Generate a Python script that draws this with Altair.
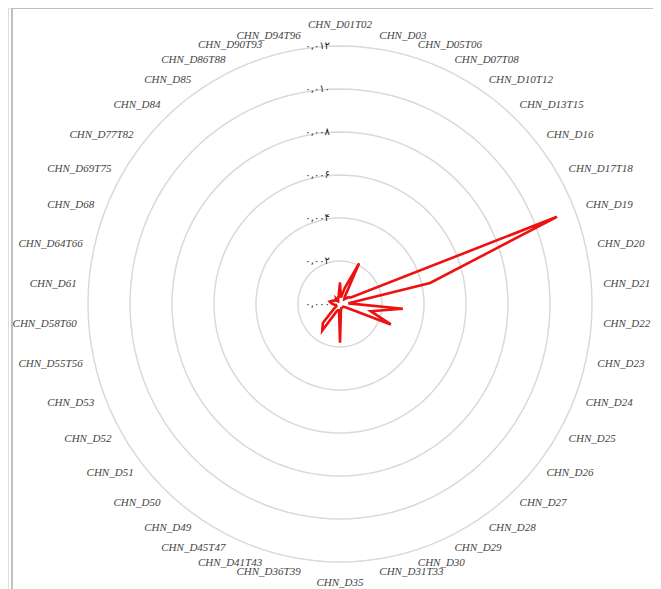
import altair as alt
import pandas as pd

categories = [
    "CHN_D01T02", "CHN_D03", "CHN_D05T06", "CHN_D07T08", "CHN_D10T12", "CHN_D13T15",
    "CHN_D16", "CHN_D17T18", "CHN_D19", "CHN_D20", "CHN_D21", "CHN_D22", "CHN_D23",
    "CHN_D24", "CHN_D25", "CHN_D26", "CHN_D27", "CHN_D28", "CHN_D29", "CHN_D30",
    "CHN_D31T33", "CHN_D35", "CHN_D36T39", "CHN_D41T43", "CHN_D45T47", "CHN_D49",
    "CHN_D50", "CHN_D51", "CHN_D52", "CHN_D53", "CHN_D55T56", "CHN_D58T60", "CHN_D61",
    "CHN_D64T66", "CHN_D68", "CHN_D69T75", "CHN_D77T82", "CHN_D84", "CHN_D85",
    "CHN_D86T88", "CHN_D90T93", "CHN_D94T96",
]
values = [
    0.0010, 0.0003, 0.0008, 0.0021, 0.0004, 0.0003,
    0.0005, 0.0006, 0.0111, 0.0044, 0.0004, 0.0030, 0.0015,
    0.0026, 0.0003, 0.0002, 0.0002, 0.0002, 0.0002, 0.0002,
    0.0003, 0.0018, 0.0003, 0.0003, 0.0004, 0.0015,
    0.0012, 0.0004, 0.0002, 0.0002, 0.0002, 0.0003, 0.0004,
    0.0005, 0.0004, 0.0003, 0.0003, 0.0002, 0.0003,
    0.0002, 0.0003, 0.0004,
]
ring_values = [0.002, 0.004, 0.006, 0.008, 0.010, 0.012]
ring_label_values = [0.0, 0.002, 0.004, 0.006, 0.008, 0.010, 0.012]
ring_labels = ["۰,۰۰۰", "۰,۰۰۲", "۰,۰۰۴", "۰,۰۰۶", "۰,۰۰۸", "۰,۰۱۰", "۰,۰۱۲"]

N = len(categories)
W, H = 645, 581

series = pd.DataFrame({
    "cat": categories + [categories[0]],
    "value": values + [values[0]],
    "idx": list(range(N)) + [N],
})
cats_df = pd.DataFrame({"cat": categories, "idx": list(range(N))})

ring_rows = []
for rv in ring_values:
    for k in range(121):
        ring_rows.append({"ring": rv, "k": k})
rings = pd.DataFrame(ring_rows)

rlab = pd.DataFrame({"v": ring_label_values, "label": ring_labels})

xs = alt.Scale(domain=[-0.015810, 0.014905], nice=False, zero=False)
ys = alt.Scale(domain=[-0.013256, 0.013767], nice=False, zero=False)
noax = None

ring_layer = alt.Chart(rings).transform_calculate(
    a="2*PI*datum.k/120",
    px="datum.ring*sin(datum.a)",
    py="datum.ring*cos(datum.a)",
).mark_line(color="#d9d9d9", strokeWidth=1.5).encode(
    x=alt.X("px:Q", scale=xs, axis=noax),
    y=alt.Y("py:Q", scale=ys, axis=noax),
    detail="ring:N",
    order="k:Q",
)

line_layer = alt.Chart(series).transform_calculate(
    a=f"2*PI*datum.idx/{N}",
    px="datum.value*sin(datum.a)",
    py="datum.value*cos(datum.a)",
).mark_line(color="#ee1111", strokeWidth=2.6, strokeJoin="miter").encode(
    x=alt.X("px:Q", scale=xs, axis=noax),
    y=alt.Y("py:Q", scale=ys, axis=noax),
    order="idx:Q",
)

base_lab = alt.Chart(cats_df).transform_calculate(
    a=f"2*PI*datum.idx/{N}",
    s="sin(datum.a)",
    c="cos(datum.a)",
    px="0.01257*datum.s",
    py="datum.c*(abs(datum.s)<0.05 ? 0.01298 : 0.0126)",
)

def lab(filt, align):
    return base_lab.transform_filter(filt).mark_text(
        align=align, baseline="middle", font="Liberation Serif",
        fontStyle="italic", fontSize=11, color="#444444",
    ).encode(
        x=alt.X("px:Q", scale=xs, axis=noax),
        y=alt.Y("py:Q", scale=ys, axis=noax),
        text="cat:N",
    )

lab_left = lab("datum.s > 0.05", "left")
lab_right = lab("datum.s < -0.05", "right")
lab_center = lab("abs(datum.s) <= 0.05", "center")

ring_text = alt.Chart(rlab).mark_text(
    align="right", baseline="middle", dx=-10, font="DejaVu Sans",
    fontSize=10, color="#222222",
).encode(
    x=alt.datum(0, scale=xs, axis=noax),
    y=alt.Y("v:Q", scale=ys, axis=noax),
    text="label:N",
)

frame_left = alt.Chart(cats_df).mark_rule(color="#c0c0c0", strokeWidth=2).encode(
    x=alt.value(4), y=alt.value(0), y2=alt.value(H)
)
frame_top = alt.Chart(cats_df).mark_rule(color="#c0c0c0", strokeWidth=2).encode(
    x=alt.value(4), x2=alt.value(W), y=alt.value(0)
)

chart = alt.layer(
    frame_left, frame_top, ring_layer, line_layer, lab_left, lab_right, lab_center, ring_text
).properties(
    width=W, height=H, padding=0, autosize=alt.AutoSizeParams(type="none")
).configure_view(stroke=None).configure(background="white")

chart.save("out.html", embed_options={"renderer": "svg", "actions": False})
